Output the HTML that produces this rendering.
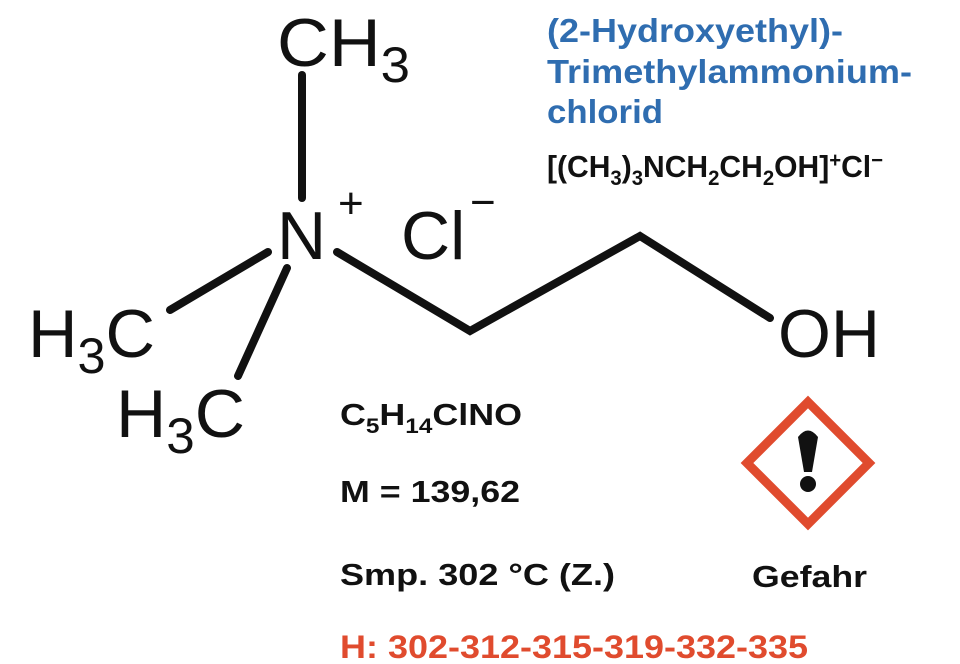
<!DOCTYPE html>
<html><head><meta charset="utf-8"><style>
body{margin:0;background:#fff}
svg{display:block}
.m{font-family:"Liberation Sans",Arial,sans-serif;fill:#111}
.b{font-family:"Liberation Sans",Arial,sans-serif;font-weight:bold}
</style></head><body>
<svg width="960" height="664" viewBox="0 0 960 664">
<g stroke="#111" stroke-width="8" stroke-linecap="round" fill="none">
<line x1="302" y1="75" x2="302" y2="198"/>
<line x1="268" y1="252" x2="170" y2="310"/>
<line x1="287" y1="268" x2="238" y2="376"/>
<polyline points="337,252 470,331 640,236 770,318"/>
</g>
<g class="m" font-size="68">
<text x="277" y="66" textLength="133" lengthAdjust="spacingAndGlyphs">CH<tspan font-size="50" dy="16">3</tspan></text>
<text x="277" y="259">N</text>
<text x="338" y="218" font-size="44">+</text>
<text x="401" y="259">Cl</text>
<text x="470" y="217" font-size="44">−</text>
<text x="28" y="357" textLength="127" lengthAdjust="spacingAndGlyphs">H<tspan font-size="50" dy="16">3</tspan><tspan dy="-16">C</tspan></text>
<text x="116" y="437" textLength="129" lengthAdjust="spacingAndGlyphs">H<tspan font-size="50" dy="16">3</tspan><tspan dy="-16">C</tspan></text>
<text x="778" y="357">OH</text>
</g>
<g class="b" font-size="33" fill="#2f6db0">
<text x="547" y="42" textLength="296" lengthAdjust="spacingAndGlyphs">(2-Hydroxyethyl)-</text>
<text x="547" y="83" textLength="365" lengthAdjust="spacingAndGlyphs">Trimethylammonium-</text>
<text x="547" y="123" textLength="116" lengthAdjust="spacingAndGlyphs">chlorid</text>
</g>
<text class="b" font-size="31" fill="#111" x="547" y="177" textLength="336" lengthAdjust="spacingAndGlyphs">[(CH<tspan font-size="21" dy="8">3</tspan><tspan dy="-8">)</tspan><tspan font-size="21" dy="8">3</tspan><tspan dy="-8">NCH</tspan><tspan font-size="21" dy="8">2</tspan><tspan dy="-8">CH</tspan><tspan font-size="21" dy="8">2</tspan><tspan dy="-8">OH]</tspan><tspan font-size="21" dy="-10">+</tspan><tspan dy="10">Cl</tspan><tspan font-size="21" dy="-10">−</tspan></text>
<g class="b" font-size="31" fill="#111">
<text x="340" y="425" textLength="182" lengthAdjust="spacingAndGlyphs">C<tspan font-size="21" dy="8">5</tspan><tspan dy="-8">H</tspan><tspan font-size="21" dy="8">14</tspan><tspan dy="-8">ClNO</tspan></text>
<text x="340" y="502" textLength="180" lengthAdjust="spacingAndGlyphs">M = 139,62</text>
<text x="340" y="585" textLength="275" lengthAdjust="spacingAndGlyphs">Smp. 302 °C (Z.)</text>
<text x="752" y="587" textLength="115" lengthAdjust="spacingAndGlyphs">Gefahr</text>
</g>
<text class="b" font-size="32" fill="#e04b2e" x="340" y="658" textLength="468" lengthAdjust="spacingAndGlyphs">H: 302-312-315-319-332-335</text>
<polygon points="808,402 869,463 808,524 747,463" fill="#fff" stroke="#e04b2e" stroke-width="9"/>
<path d="M798,437 Q808,424 818,437 L812,472 L804,472 Z" fill="#111"/>
<circle cx="808" cy="484" r="8" fill="#111"/>
</svg>
</body></html>
